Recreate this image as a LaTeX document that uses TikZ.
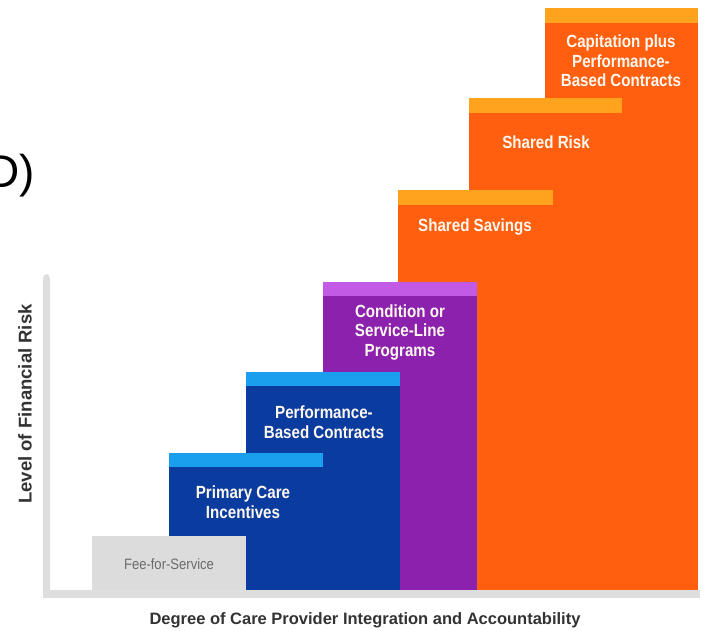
\documentclass[tikz,border=0pt]{standalone}
\usepackage{fontspec}
\setmainfont{Liberation Sans}
\newfontfamily\condfont[FakeStretch=0.86]{Liberation Sans}
\newfontfamily\feefont[FakeStretch=0.87]{Liberation Sans}
\definecolor{axisgray}{HTML}{DEDEDE}
\definecolor{feegray}{HTML}{DCDCDC}
\definecolor{darkblue}{HTML}{0A3C9F}
\definecolor{lightblue}{HTML}{1A9FEE}
\definecolor{purplebody}{HTML}{8B21AD}
\definecolor{purplebar}{HTML}{C35AE6}
\definecolor{orangebody}{HTML}{FF5F0E}
\definecolor{orangebar}{HTML}{FFA31E}
\definecolor{boxtext}{HTML}{FFF8F0}
\definecolor{labeltext}{HTML}{333333}
\begin{document}
\begin{tikzpicture}[x=1pt,y=-1pt,
  steptext/.style={text=boxtext,align=center,inner sep=0pt,
    font=\condfont\bfseries\fontsize{17.6}{19.5}\selectfont},
  axislabel/.style={text=labeltext,inner sep=0pt,font=\bfseries\fontsize{16.5}{18}\selectfont}]
\useasboundingbox (0,0) rectangle (705,630);
% axes
\fill[axisgray] (43,598) -- (43,280) .. controls (43,276) and (45,274) .. (46.5,274) .. controls (48,274) and (50,276) .. (50,280) -- (50,598) -- cycle;
\fill[axisgray] (43,590) rectangle (700,598);
% Capitation
\fill[orangebody] (545,8) rectangle (698,590);
\fill[orangebar] (545,8) rectangle (698,23);
% Shared Risk
\fill[orangebody] (469,98) rectangle (622,590);
\fill[orangebar] (469,98) rectangle (622,113);
% Shared Savings
\fill[orangebody] (398,190) rectangle (553,590);
\fill[orangebar] (398,190) rectangle (553,205);
% Condition
\fill[purplebody] (323,282) rectangle (477,590);
\fill[purplebar] (323,282) rectangle (477,296);
% Performance
\fill[darkblue] (246,372) rectangle (400,590);
\fill[lightblue] (246,372) rectangle (400,386);
% Primary
\fill[darkblue] (169,453) rectangle (323,590);
\fill[lightblue] (169,453) rectangle (323,467);
% Fee
\fill[feegray] (92,536) rectangle (246,590);
% texts
\node[steptext] (cap) at (621,61) {Capitation plus\\Performance-\\Based Contracts};
\node[steptext] (risk) at (546,142) {Shared Risk};
\node[steptext] (sav) at (475,227) {Shared Savings};
\node[steptext] (cond) at (400,332) {Condition or\\Service-Line\\Programs};
\node[steptext] (perf) at (324,422) {Performance-\\Based Contracts};
\node[steptext] (prim) at (243,502) {Primary Care\\Incentives};
\node[text=black!58,inner sep=0pt,font=\feefont\fontsize{15}{18}\selectfont] (fee) at (169,564) {Fee-for-Service};
\node[axislabel,rotate=90,font=\bfseries\fontsize{18.5}{20}\selectfont] (ylab) at (25,404) {Level of Financial Risk};
\node[axislabel] (xlab) at (365,620) {Degree of Care Provider Integration and Accountability};
\node[anchor=base east,inner sep=0pt,font=\fontsize{46}{50}\selectfont] (dlab) at (35,187) {D)};
\end{tikzpicture}
\end{document}
